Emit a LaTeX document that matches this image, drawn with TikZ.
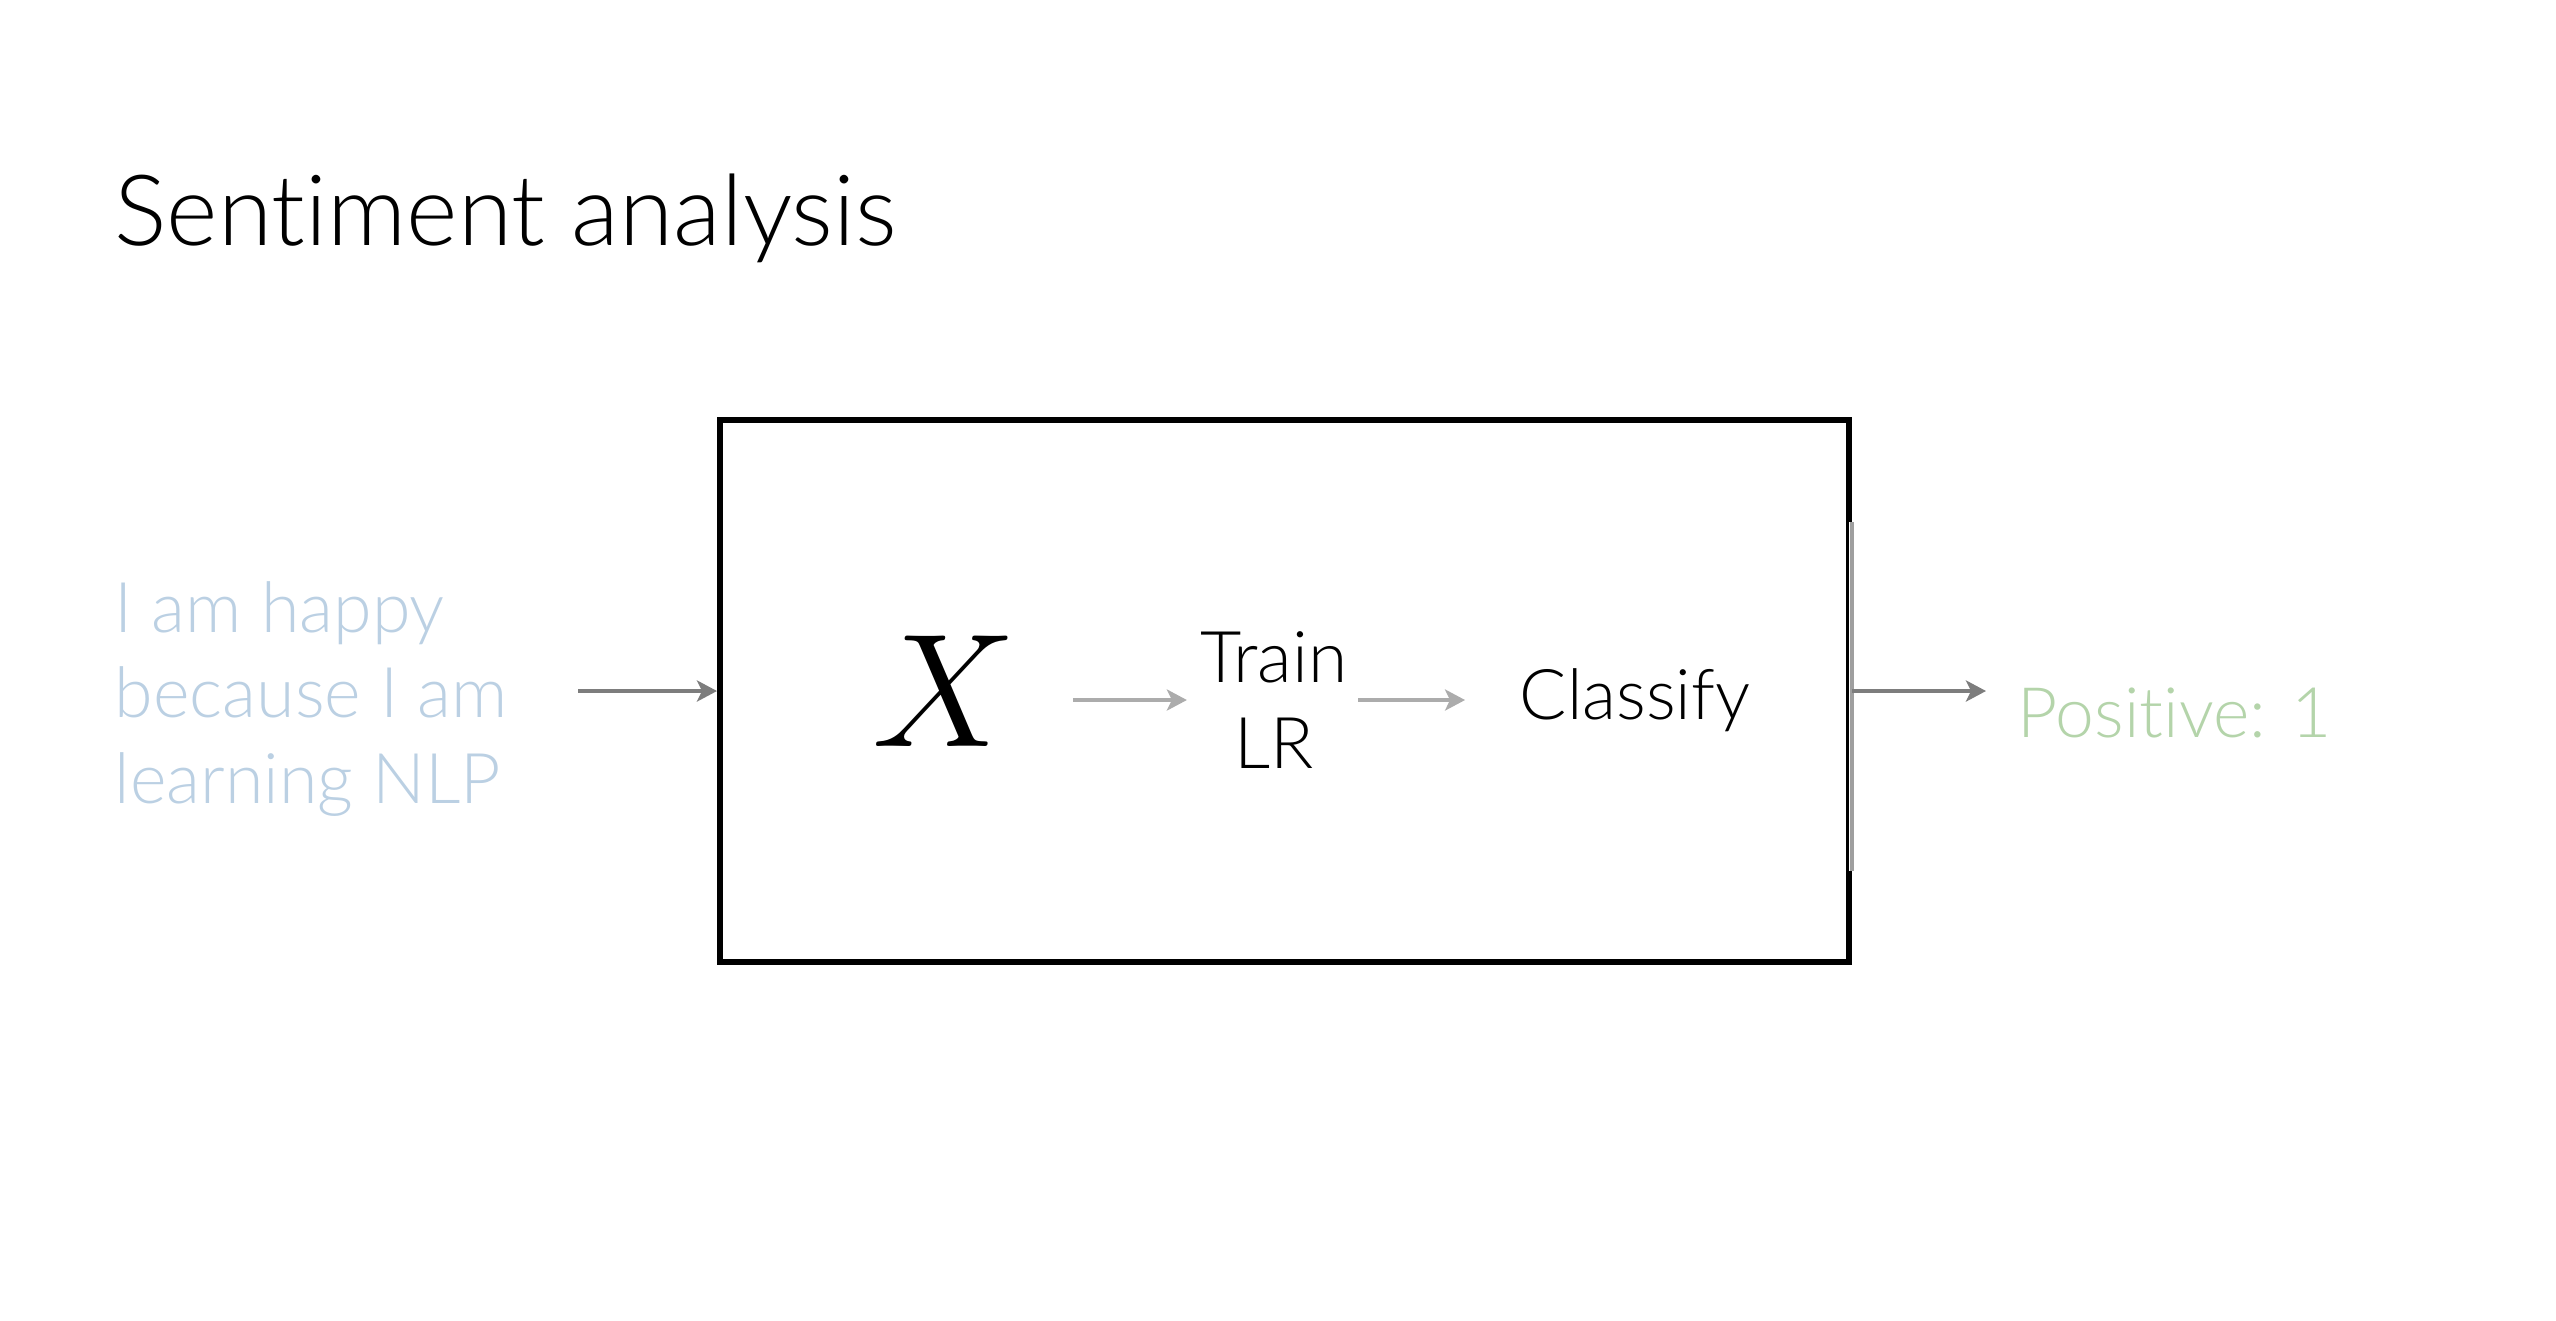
\documentclass[tikz,border=0pt]{standalone}
\usepackage{fix-cm}
\usepackage{fontspec}
\setmainfont{Lato Light}[Ligatures=NoCommon]
\usepackage{tikz}
\usetikzlibrary{arrows.meta,positioning,calc}

\definecolor{inblue}{RGB}{187,208,227}
\definecolor{outgreen}{RGB}{180,212,170}
\definecolor{arrgray}{RGB}{125,125,125}
\definecolor{lightarr}{RGB}{172,172,172}

\begin{document}
\begin{tikzpicture}[
  x=0.1mm, y=-0.1mm,
  >={Stealth[length=2mm, width=2.1mm, inset=0.5mm]},
  every node/.style={inner sep=0pt, font=\fontsize{19.9pt}{24.2pt}\selectfont},
  heading/.style={font=\fontsize{28pt}{34pt}\selectfont, anchor=base west},
  mainbox/.style={rectangle, draw=black, line width=0.6mm, minimum width=112.9mm, minimum height=54.2mm},
  stage/.style={align=center},
  flow/.style={->, line width=0.4mm, lightarr},
  io/.style={->, line width=0.4mm, arrgray}
]
  \useasboundingbox (0,0) rectangle (2556,1320);

  \node[heading] (title) at (114,245) {Sentiment analysis};

  \node[align=left, anchor=west, text=inblue] (input) at (114,699) {I am happy\\because I am\\learning NLP};

  \node[mainbox] (box) at (1284.5,691) {};
  % the middle of the right side is lighter
  \draw[white, line width=0.7mm] ($(box.east)+(0,-169)$) -- ($(box.east)+(0,180)$);
  \draw[gray!75, line width=0.35mm] ($(box.east)+(0,-169)$) -- ($(box.east)+(0,180)$);

  \node[font=\fontsize{46pt}{50pt}\selectfont] (featx) at (945,691) {$X$};
  \node[stage, font=\fontsize{20.3pt}{24.4pt}\selectfont] (trainlr) at (1274,700) {Train\\LR};
  \node[stage] (classify) at (1635,700) {Classify};

  \node[anchor=base west, text=outgreen, font=\fontsize{19.8pt}{24pt}\selectfont] (output) at (2017,737) {Positive: 1};

  \draw[io, shorten <=7mm] (input.east |- box.west) -- (box.west);
  \draw[flow, shorten <=5.5mm, shorten >=1.3mm] (featx.east |- trainlr.west) -- (trainlr.west);
  \draw[flow, shorten <=1mm, shorten >=5.4mm] (trainlr.east) -- (classify.west);
  \draw[io, shorten >=3.1mm] (box.east) -- (output.west |- box.east);
\end{tikzpicture}
\end{document}
